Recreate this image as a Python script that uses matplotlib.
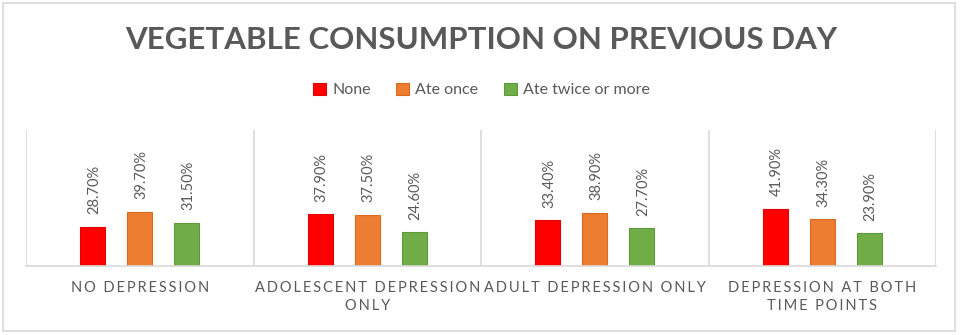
import matplotlib
matplotlib.use("Agg")
import matplotlib.pyplot as plt
from matplotlib.patches import Rectangle
import numpy as np

plt.rcParams['font.family'] = ['Lato', 'DejaVu Sans']

categories = ["NO DEPRESSION", "ADOLESCENT DEPRESSION\nONLY",
              "ADULT DEPRESSION ONLY", "DEPRESSION AT BOTH\nTIME POINTS"]
series = ["None", "Ate once", "Ate twice or more"]
none_vals = [28.7, 37.9, 33.4, 41.9]
once_vals = [39.7, 37.5, 38.9, 34.3]
twice_vals = [31.5, 24.6, 27.7, 23.9]
colors = ["#FF0000", "#ED7D31", "#70AD47"]
edges = ["#E00000", "#D96A20", "#5E9A38"]

gray = "#595959"
line_gray = "#D9D9D9"


def spaced(s, sep="\u2009"):
    # fake letter spacing
    return "\n".join(sep.join(word) for word in s.split("\n"))


fig = plt.figure(figsize=(9.63, 3.35), dpi=100)
fig.patches.append(Rectangle((0.003, 0.012), 0.989, 0.978, transform=fig.transFigure,
                             fill=False, edgecolor=line_gray, linewidth=1.2))

ax = fig.add_axes([0.027, 0.207, 0.945, 0.405])
x = np.arange(len(categories))
w = 0.11
step = 0.2066
for i, vals in enumerate([none_vals, once_vals, twice_vals]):
    pos = x + (i - 1) * step
    bars = ax.bar(pos, vals, w, color=colors[i], edgecolor=edges[i], linewidth=0.8,
                  label=series[i])
    for b, v in zip(bars, vals):
        ax.annotate(f"{v:.2f}%", (b.get_x() + b.get_width() / 2, v),
                    xytext=(1, 9), textcoords="offset points", rotation=90,
                    ha="center", va="bottom", fontsize=10.5, color=gray)

ax.set_xlim(-0.5, len(categories) - 0.5)
ax.set_ylim(0, 100)
for s in ["top", "left", "right"]:
    ax.spines[s].set_visible(False)
ax.spines["bottom"].set_color(line_gray)
ax.spines["bottom"].set_linewidth(1.2)
for b in np.arange(-0.5, len(categories), 1.0):
    ax.axvline(b, color=line_gray, linewidth=1.2)
ax.set_yticks([])
ax.set_xticks(x)
ax.set_xticklabels([spaced(c) for c in categories], fontsize=10.5, color=gray,
                   linespacing=1.35)
ax.tick_params(axis="x", length=0, pad=11)

fig.text(0.5, 0.88, "VEGETABLE CONSUMPTION ON PREVIOUS DAY",
         ha="center", va="center", fontsize=22.5, fontweight="bold", color=gray)

handles, labels = ax.get_legend_handles_labels()
fig.legend(handles, labels, loc="center", bbox_to_anchor=(0.5, 0.731), ncol=3,
           frameon=False, fontsize=11.5, labelcolor=gray, handlelength=0.8,
           handleheight=0.8, handletextpad=0.4, columnspacing=1.6)

fig.savefig("out.png", dpi=100)
